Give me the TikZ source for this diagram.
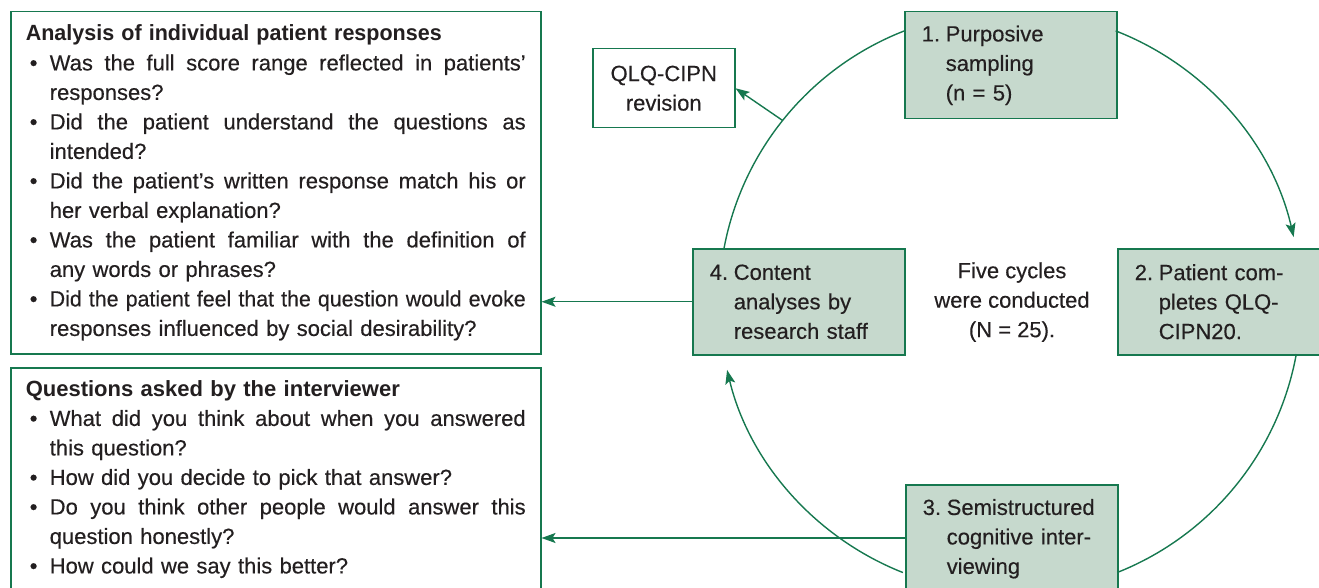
\documentclass[tikz,border=0pt]{standalone}
\usepackage{graphicx}
\usepackage{fontspec}
\setmainfont{Liberation Sans}[UprightFeatures={FakeBold=0.35}]
\usetikzlibrary{arrows.meta}
\definecolor{grn}{HTML}{16784F}
\definecolor{gfill}{HTML}{C6D9CD}
\definecolor{txt}{HTML}{231F20}
% one justified line of width #1; squeezed if too long
\newcommand\fitline[2]{\setbox2=\hbox{#2}%
  \ifdim\wd2>#1\relax\resizebox{#1}{\height}{#2}%
  \else\hbox to #1{\spaceskip=\fontdimen2\font plus 1fil\relax #2}\fi}
\newcommand\bl[1]{\noindent\hbox to 24pt{\hspace{4pt}\textbullet\hfil}\fitline{476pt}{#1}\par}
\newcommand\lastl[1]{\noindent\hspace*{24pt}#1\par}
\newcommand\bone[1]{\noindent\hbox to 24pt{\hspace{4pt}\textbullet\hfil}#1\par}
\newcommand\stp[2]{\noindent\makebox[24pt][l]{#1}#2\par}
\newcommand\ind[1]{\noindent\hspace*{24pt}#1\par}
\begin{document}
\begin{tikzpicture}[x=1pt,y=1pt,
  line/.style={draw=grn, line width=1.4pt},
  arr/.style={line, -{Stealth[length=14pt,width=10pt,inset=3pt]}},
  box/.style={draw=grn, line width=1.5pt, anchor=north west, inner ysep=0pt, text=txt,
    font=\fontsize{22}{29.5}\selectfont},
  gbox/.style={box, fill=gfill, inner xsep=17pt, text width=178pt, minimum height=#1, align=left},
  tbox/.style={box, fill=white, inner xsep=15pt, text width=500pt, minimum height=#1, align=left},
  plain/.style={text=txt, font=\fontsize{22}{29.5}\selectfont, align=center}
]
\useasboundingbox (0,0) rectangle (1319,-588);
\clip (0,0) rectangle (1319,-588);
\coordinate (C) at (1010,-302);

% left boxes
\node[tbox=342pt] (a1) at (10,-11) {%
\noindent\resizebox{416pt}{\height}{\textbf{Analysis of individual patient responses}}\par
\bl{Was the full score range reflected in patients’}
\lastl{responses?}
\bl{Did the patient understand the questions as}
\lastl{intended?}
\bl{Did the patient’s written response match his or}
\lastl{her verbal explanation?}
\bl{Was the patient familiar with the definition of}
\lastl{any words or phrases?}
\bl{Did the patient feel that the question would evoke}
\lastl{responses influenced by social desirability?}};

\node[tbox=223pt] (a2) at (10,-367) {%
\noindent\textbf{Questions asked by the interviewer}\par
\bl{What did you think about when you answered}
\lastl{this question?}
\bone{How did you decide to pick that answer?}
\bl{Do you think other people would answer this}
\lastl{question honestly?}
\bone{How could we say this better?}};

% steps
\node[gbox=107pt] (s1) at (904,-11) {\stp{1.}{Purposive}\ind{sampling}\ind{(n = 5)}};
\node[gbox=106pt] (s2) at (1117,-248) {\stp{2.}{Patient com-}\ind{pletes QLQ-}\ind{CIPN20.}};
\node[gbox=108pt] (s3) at (905,-484) {\stp{3.}{Semistructured}\ind{cognitive inter-}\ind{viewing}};
\node[gbox=106pt] (s4) at (692,-248) {\stp{4.}{Content}\ind{analyses by}\ind{research staff}};

\node[box, fill=white, inner xsep=0pt, minimum width=142pt, minimum height=79pt, align=center] (q) at (592,-48) {QLQ-CIPN\\revision};

\node[plain] (mid) at (1012,-302) {Five cycles\\were conducted\\(N = 25).};

% cycle arcs
\draw[arr] ([shift={(68.7:291)}]C) arc[start angle=68.7, end angle=12.9, radius=291];
\draw[line] ([shift={(-10.3:291)}]C) arc[start angle=-10.3, end angle=-68.4, radius=291];
\draw[arr] ([shift={(248.4:291)}]C) arc[start angle=248.4, end angle=193.5, radius=291];
\draw[line] ([shift={(169.3:291)}]C) arc[start angle=169.3, end angle=111.3, radius=291];

% branches
\coordinate (qc) at ([shift={(141.4:291)}]C);
\draw[arr] (qc) -- (q.east);
\draw[arr] (s4.west) -- (s4.west -| a1.east);
\coordinate (s3w) at (s3.west |- 0,-538);
\draw[arr] (s3w) -- (s3w -| a2.east);
\end{tikzpicture}
\end{document}
